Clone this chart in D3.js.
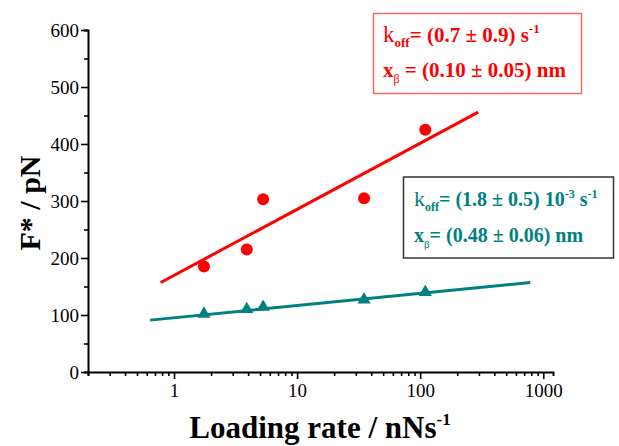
<!DOCTYPE html>
<html>
<head>
<meta charset="utf-8">
<script src="https://cdn.jsdelivr.net/npm/d3@7"></script>
<style>
  html, body { margin: 0; padding: 0; background: #fff; }
  svg { display: block; }
  text { font-family: "Liberation Serif", "Times New Roman", serif; }
</style>
</head>
<body>
<svg id="chart" width="619" height="446"></svg>
<script>
// Loading rate (nN/s) for each pulling series
const loadingRate = [1.75, 3.9, 5.3, 35, 110];
// Most probable rupture force F* (pN)
const forceRed  = [185, 215, 303, 305, 425];
const forceTeal = [102, 110, 114, 127, 140];
// Bell–Evans fit lines (endpoints in data units)
const fitRedRate   = [0.78, 296];
const fitRedForce  = [157, 456];
const fitTealRate  = [0.64, 784];
const fitTealForce = [91, 157];
// Axis ticks
const xMajorTicks = [1, 10, 100, 1000];
const yMajorTicks = [0, 100, 200, 300, 400, 500, 600];

const RED = "#ff0000";
const TEAL = "#008080";

const svg = d3.select("#chart");

const x = d3.scaleLog().domain([0.2, 1200]).range([88, 553]);
const y = d3.scaleLinear().domain([0, 600]).range([372, 30]);

// minor ticks: 2..9 within each decade, and half steps on the force axis
const xMinor = [];
for (let e = -1; e <= 3; e++) {
  for (let m = 2; m <= 9; m++) {
    const v = m * Math.pow(10, e);
    if (v >= 0.2 && v <= 1200 && !xMajorTicks.includes(v)) xMinor.push(v);
  }
}
const yMinor = d3.range(50, 600, 100);

function styleAxis(g) {
  g.select(".domain").attr("stroke", "#000").attr("stroke-width", 2);
  g.selectAll(".tick line").attr("stroke", "#000").attr("stroke-width", 1.6);
  g.selectAll(".tick text")
    .attr("fill", "#000")
    .style("font-family", "'Liberation Serif', serif")
    .style("font-size", "19px");
}

// x axis
const gx = svg.append("g").attr("transform", `translate(0,${y(0)})`);
gx.call(d3.axisBottom(x).tickValues(xMinor).tickSize(4).tickFormat(""))
  .call(styleAxis);
gx.append("g")
  .call(d3.axisBottom(x).tickValues(xMajorTicks).tickSize(7).tickPadding(5).tickFormat(d3.format("d")))
  .call(styleAxis)
  .call(g => g.select(".domain").remove());

// y axis
const gy = svg.append("g").attr("transform", `translate(${x(0.2)},0)`);
gy.call(d3.axisLeft(y).tickValues(yMinor).tickSize(4).tickFormat(""))
  .call(styleAxis);
gy.append("g")
  .call(d3.axisLeft(y).tickValues(yMajorTicks).tickSize(7).tickPadding(2).tickFormat(d3.format("d")))
  .call(styleAxis)
  .call(g => g.select(".domain").remove());

// axis titles
svg.append("text")
  .attr("transform", `translate(40,${(y(0) + y(600)) / 2 + 2}) rotate(-90)`)
  .attr("text-anchor", "middle")
  .style("font-size", "30px").style("font-weight", "bold")
  .text("F* / pN");

const xt = svg.append("text")
  .attr("x", 320).attr("y", 438)
  .attr("text-anchor", "middle")
  .style("font-size", "31px").style("font-weight", "bold");
xt.append("tspan").text("Loading rate / nNs");
xt.append("tspan").attr("dy", -13).style("font-size", "17px").text("-1");

// fit lines
const line = d3.line().x(d => x(d[0])).y(d => y(d[1]));
svg.append("path")
  .datum(d3.zip(fitRedRate, fitRedForce))
  .attr("d", line).attr("fill", "none")
  .attr("stroke", RED).attr("stroke-width", 3);
svg.append("path")
  .datum(d3.zip(fitTealRate, fitTealForce))
  .attr("d", line).attr("fill", "none")
  .attr("stroke", TEAL).attr("stroke-width", 3);

// data markers
svg.append("g").selectAll("circle")
  .data(d3.zip(loadingRate, forceRed))
  .join("circle")
  .attr("cx", d => x(d[0])).attr("cy", d => y(d[1]))
  .attr("r", 6).attr("fill", RED);

const tri = d3.symbol().type(d3.symbolTriangle).size(75);
svg.append("g").selectAll("path")
  .data(d3.zip(loadingRate, forceTeal))
  .join("path")
  .attr("transform", d => `translate(${x(d[0])},${y(d[1])})`)
  .attr("d", tri).attr("fill", TEAL);

// annotation boxes with fit parameters
function paramBox(bx, by, bw, bh, border, color, fs, lines) {
  svg.append("rect")
    .attr("x", bx).attr("y", by).attr("width", bw).attr("height", bh)
    .attr("fill", "#fff").attr("stroke", border).attr("stroke-width", 1.5);
  lines.forEach(l => {
    const t = svg.append("text")
      .attr("x", l.x).attr("y", l.y)
      .attr("fill", color)
      .style("font-size", fs + "px").style("font-weight", "bold");
    l.parts.forEach(p => {
      const s = t.append("tspan").text(p.t);
      if (p.dy) s.attr("dy", p.dy);
      if (p.size) s.style("font-size", p.size + "px");
      if (p.normal) s.style("font-weight", "normal");
    });
  });
}

paramBox(373.5, 13.5, 208, 80, "#f06a6a", RED, 21, [
  { x: 383, y: 42, parts: [
      { t: "k", normal: true, size: 23 },
      { t: "off", size: 13, dy: 5 },
      { t: "= (0.7 ± 0.9) s", dy: -5 },
      { t: "-1", size: 13, dy: -9 } ] },
  { x: 383, y: 77, parts: [
      { t: "x" },
      { t: "β", size: 12, dy: 6, normal: true },
      { t: " = (0.10 ± 0.05) nm", dy: -6 } ] }
]);

paramBox(403.5, 177, 210, 81, "#333", TEAL, 20, [
  { x: 414, y: 206, parts: [
      { t: "k", normal: true, size: 22 },
      { t: "off", size: 12, dy: 5 },
      { t: "= (1.8 ± 0.5) 10", dy: -5 },
      { t: "-3", size: 12, dy: -8 },
      { t: " s", dy: 8 },
      { t: "-1", size: 12, dy: -8 } ] },
  { x: 414, y: 242, parts: [
      { t: "x" },
      { t: "β", size: 11, dy: 6, normal: true },
      { t: "= (0.48 ± 0.06) nm", dy: -6 } ] }
]);
</script>
</body>
</html>
